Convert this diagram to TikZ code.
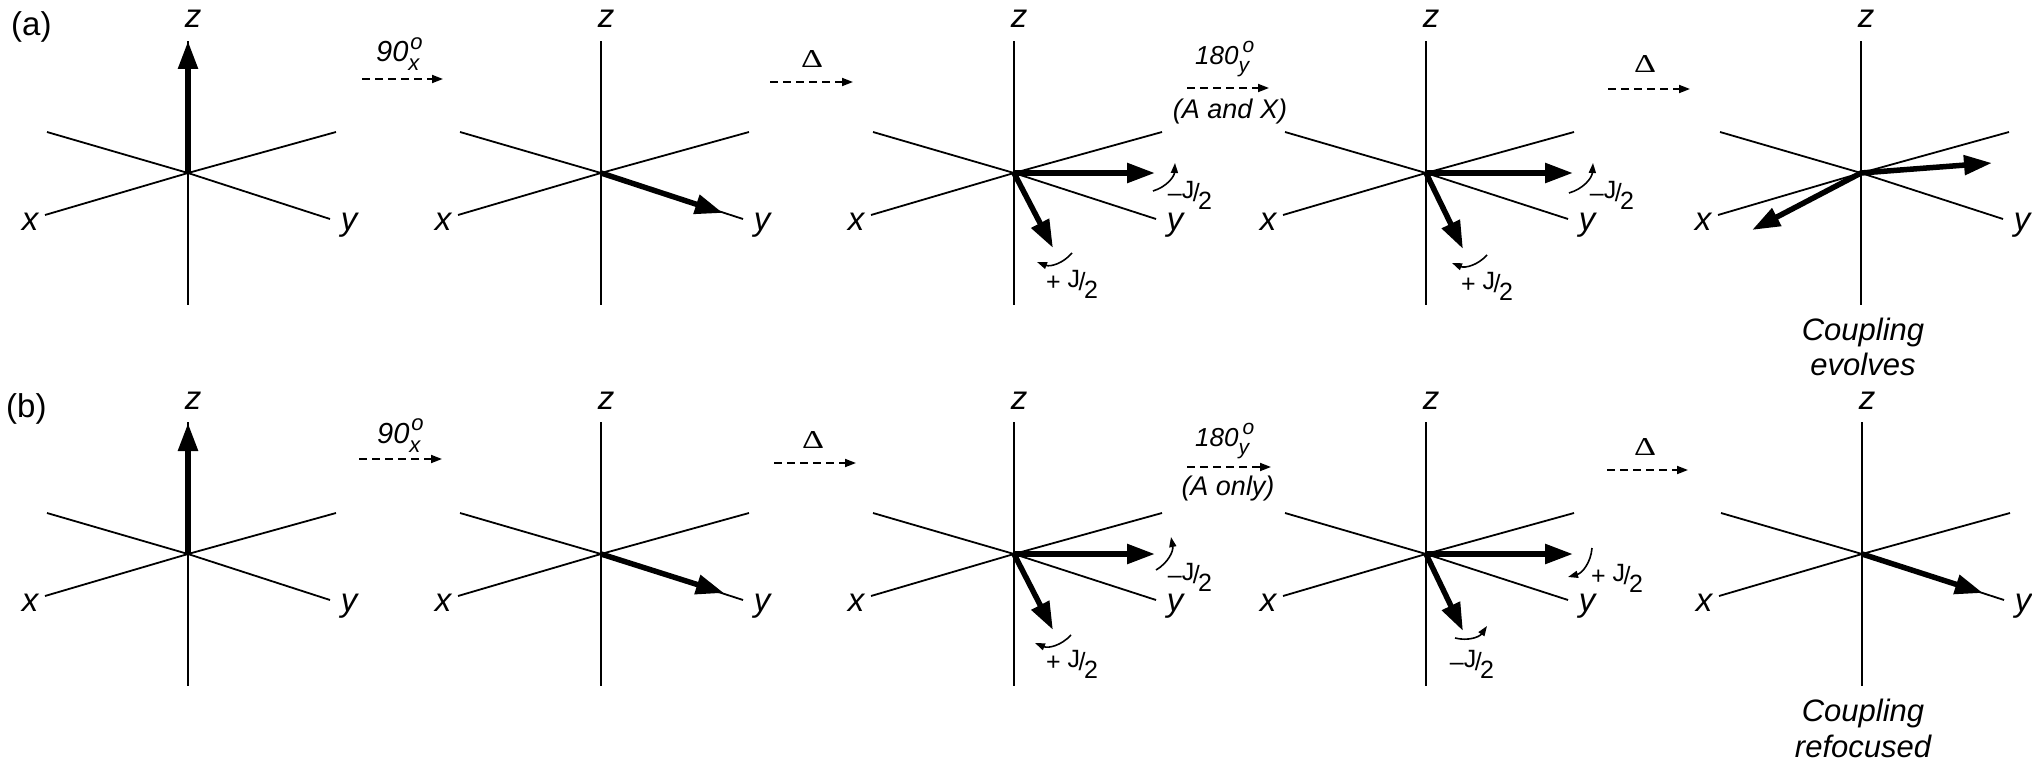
\documentclass[tikz,border=0pt]{standalone}
\usepackage{graphicx}
\usepackage{fontspec}
\setmainfont{Liberation Sans}
\newfontfamily\deltafont{Liberation Serif}
\usetikzlibrary{arrows.meta}
\newcommand\fs[1]{\fontsize{#1}{#1}\selectfont}
\newcommand\Jhalf{\raisebox{3pt}{J}\kern-1.5pt/\kern-1.5pt\raisebox{-8pt}{2}}
\newcommand\Dsym{\resizebox{22pt}{17pt}{\deltafont\fs{20}Δ}}
\tikzset{
  axis/.style={line width=1.8pt},
  mag/.style={line width=5.5pt, -{Triangle[length=28pt,width=19pt]}},
  pulse/.style={line width=1.8pt, dash pattern=on 8pt off 5pt, -{Triangle[length=11pt,width=8pt]}},
  twist/.style={line width=1.6pt, -{Triangle[length=10pt,width=7pt]}},
  axlab/.style={font=\fs{33}\itshape, inner sep=0pt, anchor=base},
  jlab/.style={font=\fs{25}, inner sep=0pt},
  plab/.style={font=\fs{29}\itshape, inner sep=0pt, anchor=base west},
  dlab/.style={inner sep=0pt, anchor=base},
  note/.style={font=\fs{31}\itshape, inner sep=0pt, anchor=base},
  tag/.style={font=\fs{33}, inner sep=0pt, anchor=base west}
}
\newcommand\drawaxes[3]{%
  \coordinate (#1) at (#2,#3);
  \draw[axis] (#1) -- ++(0,-132) coordinate (#1-zt);
  \draw[axis] (#1) -- ++(0,132) coordinate (#1-zb);
  \draw[axis] (#1) -- ++(-141,-41) coordinate (#1-ul);
  \draw[axis] (#1) -- ++(148,-41) coordinate (#1-ur);
  \draw[axis] (#1) -- ++(-143,42) coordinate (#1-xe);
  \draw[axis] (#1) -- ++(142,46) coordinate (#1-ye);
  \path (#1) ++(5,-145) node[axlab] (#1-z) {z};
  \path (#1) ++(-158,57) node[axlab] (#1-x) {x};
  \path (#1) ++(161,57) node[axlab] (#1-y) {y};
}
\begin{document}
\begin{tikzpicture}[x=1pt,y=-1pt]
\useasboundingbox (0,0) rectangle (2032,768);
\fill[white] (0,0) rectangle (2032,768);

% ---------------- row (a) ----------------
\node[tag] (taga) at (11,36) {(a)};
\drawaxes{T1}{188}{173}
\drawaxes{T2}{601}{173}
\drawaxes{T3}{1014}{173}
\drawaxes{T4}{1426}{173}
\drawaxes{T5}{1861}{173}

\draw[mag] (T1) -- ++(0,-132);
\draw[mag] (T2) -- ++(122,40);
\draw[mag] (T3) -- ++(141,0);
\draw[mag] (T3) -- ++(39,75);
\draw[mag] (T4) -- ++(147,0);
\draw[mag] (T4) -- ++(37,76);
\draw[mag] (T5) -- ++(131,-10);
\draw[mag] (T5) -- ++(-109,57);

% pulses / delays
\coordinate (ta1s) at (362,79);  \coordinate (ta1e) at (443,79);
\coordinate (ta2s) at (770,82);  \coordinate (ta2e) at (853,82);
\coordinate (ta3s) at (1187,88); \coordinate (ta3e) at (1269,88);
\coordinate (ta4s) at (1608,89); \coordinate (ta4e) at (1690,89);
\draw[pulse] (ta1s) -- (ta1e);
\draw[pulse] (ta2s) -- (ta2e);
\draw[pulse] (ta3s) -- (ta3e);
\draw[pulse] (ta4s) -- (ta4e);
\node[plab] (ta1l) at (376,62) {90\rlap{\kern2pt\raisebox{13pt}{\fs{22}o}}\raisebox{-9pt}{\fs{22}x}};
\node[dlab] (ta2l) at (812,68) {\Dsym};
\node[plab, font=\fs{26}\itshape] (ta3l) at (1195,65) {180\rlap{\kern4pt\raisebox{12pt}{\fs{21}o}}\raisebox{-8pt}{\fs{21}y}};
\node[note, font=\fs{27}\itshape] (ta3n) at (1230,118) {(A and X)};
\node[dlab] (ta4l) at (1645,73) {\Dsym};

% coupling evolution (a)
\path (T3) ++(139,18) coordinate (c3a) ++(22,-28) coordinate (c3b);
\draw[twist] (c3a) to[bend right=35] (c3b);
\path (T3) ++(58,80) coordinate (c3c) ++(-35,9) coordinate (c3d);
\draw[twist] (c3c) to[bend left=35] (c3d);
\path (T4) ++(143,20) coordinate (c4a) ++(24,-30) coordinate (c4b);
\draw[twist] (c4a) to[bend right=35] (c4b);
\path (T4) ++(61,82) coordinate (c4c) ++(-35,8) coordinate (c4d);
\draw[twist] (c4c) to[bend left=35] (c4d);
\node[jlab] (j3a) at (1190,195) {–\Jhalf};
\node[jlab] (j3b) at (1072,284) {+ \Jhalf};
\node[jlab] (j4a) at (1612,195) {–\Jhalf};
\node[jlab] (j4b) at (1487,286) {+ \Jhalf};

\node[note] (na1) at (1863,340) {Coupling};
\node[note] (na2) at (1863,375) {evolves};

% ---------------- row (b) ----------------
\node[tag] (tagb) at (6,417) {(b)};
\drawaxes{B1}{188}{554}
\drawaxes{B2}{601}{554}
\drawaxes{B3}{1014}{554}
\drawaxes{B4}{1426}{554}
\drawaxes{B5}{1862}{554}

\draw[mag] (B1) -- ++(0,-131);
\draw[mag] (B2) -- ++(123,39);
\draw[mag] (B3) -- ++(141,0);
\draw[mag] (B3) -- ++(39,76);
\draw[mag] (B4) -- ++(147,0);
\draw[mag] (B4) -- ++(37,77);
\draw[mag] (B5) -- ++(121,39);

\coordinate (tb1s) at (359,459);  \coordinate (tb1e) at (442,459);
\coordinate (tb2s) at (774,463);  \coordinate (tb2e) at (856,463);
\coordinate (tb3s) at (1187,467); \coordinate (tb3e) at (1271,467);
\coordinate (tb4s) at (1607,470); \coordinate (tb4e) at (1688,470);
\draw[pulse] (tb1s) -- (tb1e);
\draw[pulse] (tb2s) -- (tb2e);
\draw[pulse] (tb3s) -- (tb3e);
\draw[pulse] (tb4s) -- (tb4e);
\node[plab] (tb1l) at (377,443) {90\rlap{\kern2pt\raisebox{13pt}{\fs{22}o}}\raisebox{-9pt}{\fs{22}x}};
\node[dlab] (tb2l) at (813,448) {\Dsym};
\node[plab, font=\fs{26}\itshape] (tb3l) at (1195,446) {180\rlap{\kern4pt\raisebox{12pt}{\fs{21}o}}\raisebox{-8pt}{\fs{21}y}};
\node[note, font=\fs{27}\itshape] (tb3n) at (1228,495) {(A only)};
\node[dlab] (tb4l) at (1645,455) {\Dsym};

\path (B3) ++(142,16) coordinate (d3a) ++(15,-33) coordinate (d3b);
\draw[twist] (d3a) to[bend right=35] (d3b);
\path (B3) ++(57,81) coordinate (d3c) ++(-36,8) coordinate (d3d);
\draw[twist] (d3c) to[bend left=35] (d3d);
\path (B4) ++(166,-6) coordinate (d4a) ++(-24,29) coordinate (d4b);
\draw[twist] (d4a) to[bend left=35] (d4b);
\path (B4) ++(29,84) coordinate (d4c) ++(32,-12) coordinate (d4d);
\draw[twist] (d4c) to[bend right=35] (d4d);
\node[jlab] (k3a) at (1190,577) {–\Jhalf};
\node[jlab] (k3b) at (1072,664) {+ \Jhalf};
\node[jlab] (k4a) at (1617,578) {+ \Jhalf};
\node[jlab] (k4b) at (1472,664) {–\Jhalf};

\node[note] (nb1) at (1863,721) {Coupling};
\node[note] (nb2) at (1863,757) {refocused};
\end{tikzpicture}
\end{document}
